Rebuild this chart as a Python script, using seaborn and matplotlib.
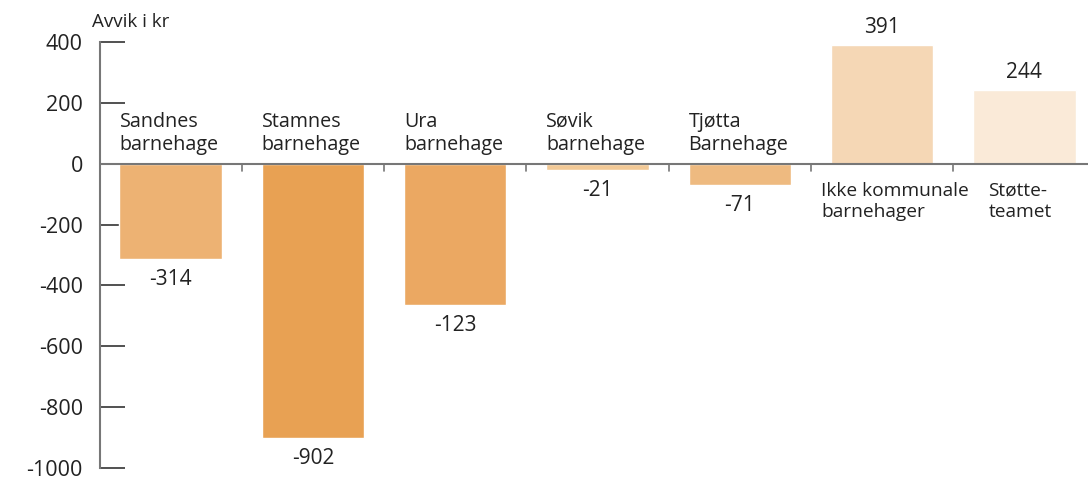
import matplotlib
matplotlib.use("Agg")
import matplotlib.pyplot as plt
import seaborn as sns
import pandas as pd

# Data
categories = ["Sandnes\nbarnehage", "Stamnes\nbarnehage", "Ura\nbarnehage", "Søvik\nbarnehage",
              "Tjøtta\nBarnehage", "Ikke kommunale\nbarnehager", "Støtte-\nteamet"]
bar_values = [-314, -902, -464, -21, -71, 391, 244]
value_labels = ["-314", "-902", "-123", "-21", "-71", "391", "244"]
bar_colors = ["#EDB273", "#E8A153", "#EBA862", "#F2C996", "#EEBA80", "#F5D7B5", "#FAEAD8"]
y_ticks = [400, 200, 0, -200, -400, -600, -800, -1000]

df = pd.DataFrame({"kategori": categories, "avvik": bar_values})

sns.set_theme(style="white")
plt.rcParams["font.family"] = ["Open Sans", "DejaVu Sans"]

fig = plt.figure(figsize=(10.88, 4.86), dpi=100)
ax = fig.add_axes([0.0915, 0.037, 0.9154, 0.8765])

sns.barplot(data=df, x="kategori", y="avvik", hue="kategori", palette=bar_colors,
            legend=False, width=0.72, saturation=1, ax=ax)

ax.set_ylim(-1000, 400)
ax.set_xlim(-0.5, 6.5)
ax.set_yticks(y_ticks)
ax.set_yticklabels([str(t) for t in y_ticks], fontsize=15.5, color="#222222")
ax.tick_params(axis="y", left=True, direction="in", length=18, width=1.2, color="#333333", pad=12)
ax.set_xticks([])
ax.set_xlabel("")
ax.set_ylabel("")

for s in ["top", "right", "bottom"]:
    ax.spines[s].set_visible(False)
ax.spines["left"].set_color("#777777")
ax.spines["left"].set_linewidth(1.5)

# zero line and category separators
ax.axhline(0, color="#777777", linewidth=1.5, zorder=3)
for i in range(7):
    ax.plot([i + 0.5, i + 0.5], [0, -25], color="#777777", linewidth=1.2, clip_on=False)

# small horizontal nudges (points) for the labels under the positive bars
below_shift = {5: -7, 6: 11}

for i, (v, lab, cat) in enumerate(zip(bar_values, value_labels, categories)):
    if v < 0:
        ax.annotate(lab, (i, v), xytext=(0, -7), textcoords="offset points",
                    ha="center", va="top", fontsize=15, color="#222222")
        ax.annotate(cat, (i - 0.36, 0), xytext=(0, 6), textcoords="offset points",
                    ha="left", va="bottom", fontsize=14.2, color="#222222", linespacing=1.25)
    else:
        ax.annotate(lab, (i, v), xytext=(0, 5), textcoords="offset points",
                    ha="center", va="bottom", fontsize=15, color="#222222", annotation_clip=False)
        ax.annotate(cat, (i - 0.36, 0), xytext=(below_shift.get(i, 0), -13), textcoords="offset points",
                    ha="left", va="top", fontsize=13.8, color="#222222", linespacing=1.25)

fig.text(0.085, 0.955, "Avvik i kr", fontsize=13.5, color="#222222", ha="left", va="center")

fig.savefig("out.png", dpi=100)
